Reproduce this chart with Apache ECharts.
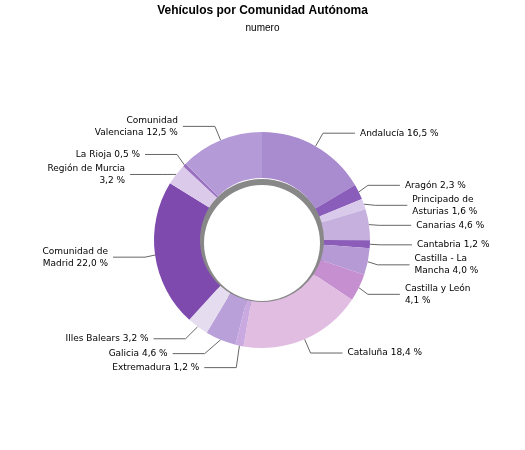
<!DOCTYPE html><html><head><meta charset="utf-8">
<script src="https://cdn.jsdelivr.net/npm/echarts@6/dist/echarts.min.js"></script>
<style>html,body{margin:0;background:#fff}#c{width:525px;height:450px}</style></head><body><div id="c"></div>
<script>
const categories=["Andalucía","Aragón","Principado de\nAsturias","Canarias","Cantabria","Castilla - La\nMancha","Castilla y León","Cataluña","Extremadura","Galicia","Illes Balears","Comunidad de\nMadrid","Región de Murcia","La Rioja","Comunidad\nValenciana"];
const values=[16.5,2.3,1.6,4.6,1.2,4.0,4.1,18.4,1.2,4.6,3.2,22.0,3.2,0.5,12.5];
const colors=["#a98bcf","#8a5dbb","#d9c9ea","#c6b0de","#8b5cb8","#b59ad6","#c68fd0","#e2bde2","#c9a9e0","#b9a0d9","#e6dcf0","#7e4aae","#dccaea","#9a70c0","#b49ad6"];
const labelNames=["Andalucía","Aragón","Principado de\nAsturias","Canarias","Cantabria","Castilla - La\nMancha","Castilla y León\n","Cataluña","Extremadura","Galicia","Illes Balears","Comunidad de\nMadrid","Región de Murcia\n","La Rioja","Comunidad\nValenciana"];
const c=echarts.init(document.getElementById('c'));
const fmt=v=>v.toFixed(1).replace('.',',');
c.setOption({
title:{text:'Vehículos por Comunidad Autónoma',subtext:'numero',left:'center',top:0,itemGap:6,
 textStyle:{fontSize:12,fontWeight:'bold',color:'#000',fontFamily:'Liberation Sans'},
 subtextStyle:{fontSize:10,color:'#000',fontFamily:'Liberation Sans'}},
series:[
{type:'pie',silent:true,center:[262,243],radius:[58,64],data:[{value:1}],itemStyle:{color:'#888'},label:{show:false},z:1},
{type:'pie',center:[262,240],radius:[62,108],startAngle:90,clockwise:true,avoidLabelOverlap:true,
 data:values.map((v,i)=>({name:labelNames[i],value:v,itemStyle:{color:colors[i]}})),
 itemStyle:{borderColor:'#fff',borderWidth:0},
 label:{formatter:p=>{const n=p.name;return n.endsWith('\n')?n+fmt(p.value)+' %':n+' '+fmt(p.value)+' %';},
  fontSize:9,color:'#000',fontFamily:'DejaVu Sans',lineHeight:12,align:'center'},
 labelLine:{length:15,length2:32,lineStyle:{color:'#666',width:1}},z:2}
]});
</script></body></html>
